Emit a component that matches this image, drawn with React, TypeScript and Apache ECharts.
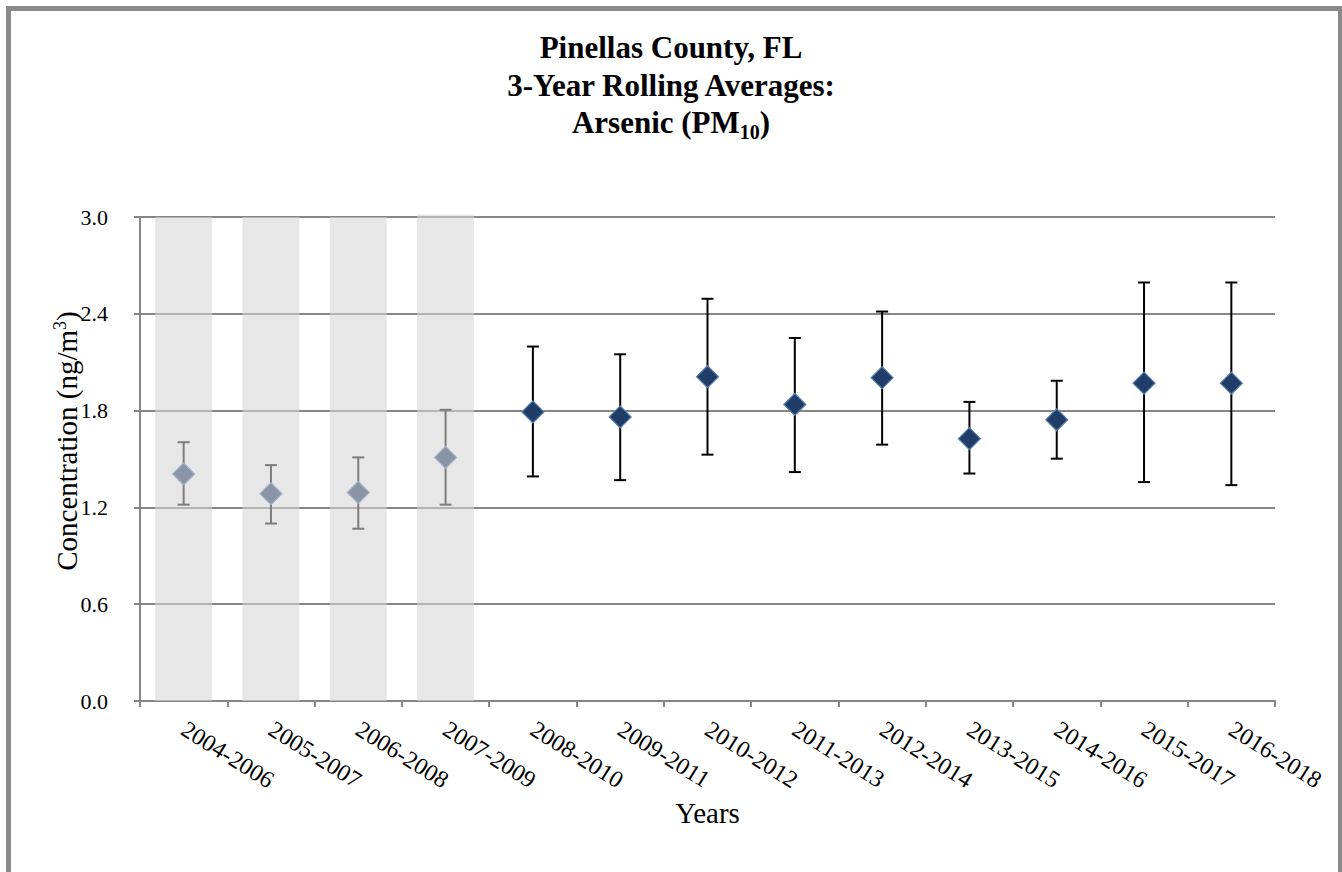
import React, { useEffect, useRef } from "react";
import * as echarts from "echarts";

const categories = [
  "2004-2006", "2005-2007", "2006-2008", "2007-2009", "2008-2010", "2009-2011",
  "2010-2012", "2011-2013", "2012-2014", "2013-2015", "2014-2016", "2015-2017", "2016-2018",
];
const means = [1.407, 1.285, 1.293, 1.51, 1.792, 1.761, 2.01, 1.838, 2.004, 1.626, 1.743, 1.97, 1.97];
const upper = [1.604, 1.462, 1.51, 1.805, 2.197, 2.149, 2.493, 2.25, 2.414, 1.854, 1.985, 2.594, 2.594];
const lower = [1.217, 1.1, 1.068, 1.217, 1.392, 1.369, 1.527, 1.419, 1.589, 1.41, 1.502, 1.357, 1.338];
const shadeValues = [3.0, 3.0, 3.0, 3.015, null, null, null, null, null, null, null, null, null];
const yTicks = { min: 0, max: 3, interval: 0.6 };

const SERIF = "Liberation Serif";
const AXIS_GRAY = "#868686";

export default function App() {
  const ref = useRef<HTMLDivElement>(null);
  useEffect(() => {
    if (!ref.current) return;
    const chart = echarts.init(ref.current, undefined, { renderer: "svg" });
    const errData = categories.map((c, i) => [i, lower[i], upper[i]]);
    chart.setOption({
      animation: false,
      backgroundColor: "#ffffff",
      title: {
        left: "center",
        top: 24,
        text: "{b|Pinellas County, FL}\n{b|3-Year Rolling Averages:}\n{b|Arsenic (PM}{sub|10}{b|)}",
        textStyle: {
          rich: {
            b: { fontFamily: SERIF, fontWeight: "bold", fontSize: 31, lineHeight: 37.5, color: "#000" },
            sub: { fontFamily: SERIF, fontWeight: "bold", fontSize: 20, lineHeight: 37.5, color: "#000", verticalAlign: "bottom" },
          },
        },
      },
      grid: { left: 140, right: 67, top: 217, bottom: 171, containLabel: false },
      xAxis: {
        type: "category",
        data: categories,
        boundaryGap: true,
        name: "Years",
        nameLocation: "middle",
        nameGap: 97,
        nameTextStyle: { fontFamily: SERIF, fontSize: 29, color: "#000" },
        axisLine: { lineStyle: { color: AXIS_GRAY, width: 2 } },
        axisTick: { show: true, length: 6, lineStyle: { color: AXIS_GRAY, width: 2 } },
        axisLabel: { rotate: -32, margin: 26, fontFamily: SERIF, fontSize: 24, color: "#000", interval: 0 },
        splitLine: { show: false },
      },
      yAxis: {
        type: "value",
        min: yTicks.min,
        max: yTicks.max,
        interval: yTicks.interval,
        axisLine: { show: true, lineStyle: { color: AXIS_GRAY, width: 2 } },
        axisTick: { show: true, length: 6, lineStyle: { color: AXIS_GRAY, width: 2 } },
        axisLabel: { formatter: (v: number) => v.toFixed(1), fontFamily: SERIF, fontSize: 22, color: "#000", margin: 32 },
        splitLine: { lineStyle: { color: AXIS_GRAY, width: 2 } },
      },
      graphic: [
        {
          type: "rect",
          shape: { x: 8.5, y: 8.5, width: 1332, height: 880 },
          style: { fill: "none", stroke: "#8a8a8a", lineWidth: 5 },
          silent: true,
          z: 100,
        },
        {
          type: "text",
          x: 67,
          y: 441,
          rotation: Math.PI / 2,
          style: {
            text: "{a|Concentration (ng/m}{s|3}{a|)}",
            align: "center",
            verticalAlign: "middle",
            rich: {
              a: { fontFamily: SERIF, fontSize: 29, lineHeight: 32, fill: "#000" },
              s: { fontFamily: SERIF, fontSize: 18, lineHeight: 32, fill: "#000", verticalAlign: "top" },
            },
          },
        },
      ],
      series: [
        {
          type: "custom",
          name: "range",
          z: 3,
          silent: true,
          data: errData,
          renderItem: (params: any, api: any) => {
            const x = api.value(0);
            const lo = api.coord([x, api.value(1)]);
            const hi = api.coord([x, api.value(2)]);
            const hw = 6;
            const st = { stroke: "#000", lineWidth: 2 };
            return {
              type: "group",
              children: [
                { type: "line", shape: { x1: lo[0], y1: lo[1], x2: hi[0], y2: hi[1] }, style: st },
                { type: "line", shape: { x1: lo[0] - hw, y1: lo[1], x2: lo[0] + hw, y2: lo[1] }, style: st },
                { type: "line", shape: { x1: hi[0] - hw, y1: hi[1], x2: hi[0] + hw, y2: hi[1] }, style: st },
              ],
            };
          },
        },
        {
          type: "scatter",
          name: "mean",
          z: 4,
          data: means,
          symbol: "diamond",
          symbolSize: [22, 22],
          itemStyle: { color: "#1f3d66", borderColor: "#5a7fb0", borderWidth: 1.2, opacity: 1 },
        },
        {
          type: "bar",
          name: "shade",
          z: 10,
          silent: true,
          clip: false,
          data: shadeValues,
          barWidth: 57,
          itemStyle: { color: "rgba(214,214,214,0.58)" },
        },
      ],
    });
    return () => chart.dispose();
  }, []);
  return (
    <div
      ref={ref}
      style={{ position: "fixed", left: 0, top: 0, width: 1342, height: 872, background: "#fff" }}
    />
  );
}
